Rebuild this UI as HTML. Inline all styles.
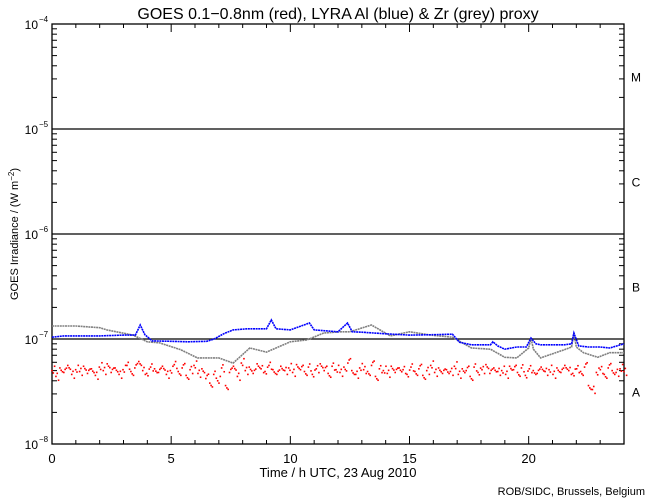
<!DOCTYPE html>
<html><head><meta charset="utf-8">
<style>
html,body{margin:0;padding:0;background:#fff;}
svg{display:block;font-family:"Liberation Sans",sans-serif;}
</style></head>
<body>
<svg id="chart" width="650" height="500" viewBox="0 0 650 500" xmlns="http://www.w3.org/2000/svg">
<rect width="650" height="500" fill="#fff"/>
<text x="338" y="19" font-size="16" text-anchor="middle" fill="#000">GOES 0.1−0.8nm (red), LYRA Al (blue) &amp; Zr (grey) proxy</text>
<text x="338" y="477" font-size="13" text-anchor="middle" fill="#000">Time / h UTC, 23 Aug 2010</text>
<text x="645" y="495" font-size="11" text-anchor="end" fill="#000">ROB/SIDC, Brussels, Belgium</text>
<text transform="translate(18,234) rotate(-90)" font-size="11" text-anchor="middle" fill="#000">GOES Irradiance / (W m<tspan dy="-4" font-size="8">−2</tspan><tspan dy="4">)</tspan></text>
<g id="axes"></g>
<g id="series"></g>
</svg>
<script>
const xTickLabels = ["0","5","10","15","20"];
const yTickExps = [-8,-7,-6,-5,-4];
const classLabels = ["A","B","C","M"];
const blueHours = [0,0.5,1,2,3,3.5,3.7,3.9,4.2,5,5.7,6.5,6.8,7.2,7.6,8.2,9,9.2,9.4,10,10.8,11,12,12.4,12.6,13,14,15,16,16.8,17.1,17.6,18.4,18.5,18.7,19,19.5,19.9,20.1,20.3,20.5,21,21.5,21.8,21.9,22.1,22.5,23,23.4,24];
const blueValues = [1.04e-7,1.07e-7,1.07e-7,1.07e-7,1.09e-7,1.09e-7,1.36e-7,1.1e-7,0.96e-7,0.95e-7,0.94e-7,0.95e-7,1.0e-7,1.12e-7,1.22e-7,1.25e-7,1.25e-7,1.52e-7,1.25e-7,1.22e-7,1.42e-7,1.22e-7,1.17e-7,1.42e-7,1.17e-7,1.16e-7,1.12e-7,1.09e-7,1.1e-7,1.11e-7,0.93e-7,0.88e-7,0.88e-7,0.94e-7,0.86e-7,0.8e-7,0.84e-7,0.84e-7,1.02e-7,0.9e-7,0.88e-7,0.88e-7,0.88e-7,0.9e-7,1.14e-7,0.86e-7,0.84e-7,0.84e-7,0.82e-7,0.9e-7];
const greyHours = [0,1,2,2.3,3.4,4,4.5,5.4,6.1,6.6,7,7.6,8.3,9,10,10.7,11.4,12.1,12.5,13.4,14.2,15,15.9,16.8,17.6,18.4,19,19.5,20,20.1,20.2,20.5,21.5,21.8,21.9,22,22.3,22.9,23.4,24];
const greyValues = [1.33e-7,1.33e-7,1.28e-7,1.22e-7,1.09e-7,0.94e-7,0.92e-7,0.79e-7,0.66e-7,0.66e-7,0.66e-7,0.59e-7,0.82e-7,0.75e-7,0.94e-7,0.98e-7,1.14e-7,1.17e-7,1.17e-7,1.36e-7,1.07e-7,1.17e-7,1.09e-7,1.04e-7,0.82e-7,0.8e-7,0.67e-7,0.66e-7,0.82e-7,1.02e-7,0.8e-7,0.66e-7,0.79e-7,0.84e-7,1.14e-7,0.84e-7,0.74e-7,0.67e-7,0.74e-7,0.74e-7];
const redValues = [5.0e-8,4.4e-8,5.3e-8,4.8e-8,5.6e-8,4.6e-8,5.1e-8,4.9e-8,5.5e-8,4.7e-8,5.2e-8,4.5e-8,5.4e-8,5.0e-8,5.8e-8,4.8e-8,5.3e-8,4.6e-8,5.1e-8,5.6e-8,4.9e-8,5.3e-8,6.1e-8,5.0e-8,4.7e-8,5.4e-8,5.2e-8,4.8e-8,5.5e-8,4.6e-8,5.0e-8,5.7e-8,4.9e-8,5.3e-8,4.5e-8,5.1e-8,5.6e-8,4.7e-8,5.2e-8,4.2e-8,3.8e-8,4.6e-8,4.0e-8,5.3e-8,3.6e-8,4.8e-8,5.5e-8,4.4e-8,5.9e-8,5.0e-8,5.4e-8,4.7e-8,5.8e-8,5.2e-8,4.9e-8,5.6e-8,5.1e-8,4.6e-8,5.5e-8,5.0e-8,5.3e-8,4.8e-8,5.7e-8,5.1e-8,4.9e-8,5.4e-8,4.6e-8,5.2e-8,5.8e-8,5.0e-8,4.7e-8,5.5e-8,5.1e-8,4.8e-8,5.4e-8,5.9e-8,5.0e-8,4.6e-8,5.3e-8,5.1e-8,4.9e-8,5.6e-8,4.4e-8,5.2e-8,5.0e-8,4.7e-8,5.5e-8,4.8e-8,5.3e-8,5.1e-8,4.6e-8,5.4e-8,4.9e-8,5.2e-8,4.5e-8,5.0e-8,5.6e-8,4.8e-8,5.3e-8,4.7e-8,5.1e-8,4.9e-8,5.5e-8,4.6e-8,5.2e-8,5.0e-8,4.4e-8,5.4e-8,4.8e-8,5.1e-8,5.7e-8,4.7e-8,5.3e-8,4.9e-8,5.0e-8,4.6e-8,5.5e-8,5.1e-8,4.8e-8,5.3e-8,4.5e-8,5.2e-8,5.0e-8,4.7e-8,5.4e-8,4.9e-8,5.1e-8,4.6e-8,5.3e-8,4.8e-8,5.6e-8,5.0e-8,4.7e-8,5.2e-8,4.9e-8,5.4e-8,3.6e-8,3.3e-8,4.8e-8,5.1e-8,4.6e-8,5.3e-8,5.0e-8,4.8e-8,5.2e-8,4.9e-8];

const L=52,R=624,T=24,B=444;
const NS="http://www.w3.org/2000/svg";
function xs(h){return L+(R-L)*h/24;}
function ys(v){return T+(B-T)*(-4-Math.log10(v))/4;}
function mk(tag,attrs,parent){const e=document.createElementNS(NS,tag);for(const k in attrs)e.setAttribute(k,attrs[k]);parent.appendChild(e);return e;}
const axes=document.getElementById('axes');
const series=document.getElementById('series');

const frame=mk('rect',{x:L,y:T,width:R-L,height:B-T,fill:'none',stroke:'#000','stroke-width':1.3},axes);



for(let h=0;h<=24;h++){
  const major=h%5===0, len=major?8:4, x=xs(h);
  const t1=mk('line',{x1:x,y1:B,x2:x,y2:B-len,stroke:'#000','stroke-width':1},axes);
  
  
  const t2=mk('line',{x1:x,y1:T,x2:x,y2:T+len,stroke:'#000','stroke-width':1},axes);
  
  
}
xTickLabels.forEach(function(lab){
  const t=mk('text',{x:xs(+lab),y:463,'font-size':13,'text-anchor':'middle',fill:'#000'},axes);
  t.textContent=lab;
  
  
});
for(let e=-8;e<-4;e++){
  for(let m=2;m<10;m++){
    const y=ys(m*Math.pow(10,e));
    const a=mk('line',{x1:L,y1:y,x2:L+5,y2:y,stroke:'#000','stroke-width':1},axes);
    
    
    const b=mk('line',{x1:R,y1:y,x2:R-5,y2:y,stroke:'#000','stroke-width':1},axes);
    
    
  }
}
yTickExps.forEach(function(ex){
  const y=ys(Math.pow(10,ex));
  const t=mk('text',{x:38,y:y+5,'font-size':12,'text-anchor':'end',fill:'#000'},axes);
  t.textContent='10';
  
  
  const s=mk('text',{x:39,y:y-2,'font-size':8,fill:'#000'},axes);
  s.textContent=String(ex).replace('-','−');
  
  
  if(ex>-8&&ex<-4){
    const g=mk('line',{x1:L,y1:y,x2:R,y2:y,stroke:'#000','stroke-width':1.3},axes);
    
    
  }
});
classLabels.forEach(function(c,i){
  const y=ys(Math.pow(10,-8+i)*3.16);
  const t=mk('text',{x:636,y:y+5,'font-size':12,'text-anchor':'middle',fill:'#000'},axes);
  t.textContent=c;
  
  
});

function line(hours,vals,color,name){
  const pts=hours.map(function(h,i){return xs(h).toFixed(1)+','+ys(vals[i]).toFixed(1);}).join(' ');
  const p=mk('polyline',{points:pts,fill:'none',stroke:color,'stroke-width':1.6,'stroke-dasharray':'2 0.6'},series);
  
  
}
line(greyHours,greyValues,'#808080','zr-proxy-grey-series');
line(blueHours,blueValues,'#0000ff','al-proxy-blue-series');

const n=redValues.length;
const redOffsets=[[0,1],[1.3,1.08],[2.6,0.93]];
redValues.forEach(function(v,i){
  const h=24*i/(n-1);
  const x=xs(h);
  redOffsets.forEach(function(o,k){
    const f=(k===1)?(i%2?1.07:0.95):(k===2?(i%3?0.92:1.1):1);
    const r=mk('rect',{x:x+o[0]-0.8,y:ys(v*f)-0.8,width:1.6,height:1.6,fill:'#ff0000'},series);
    
    
  });
});
</script>
</body></html>
